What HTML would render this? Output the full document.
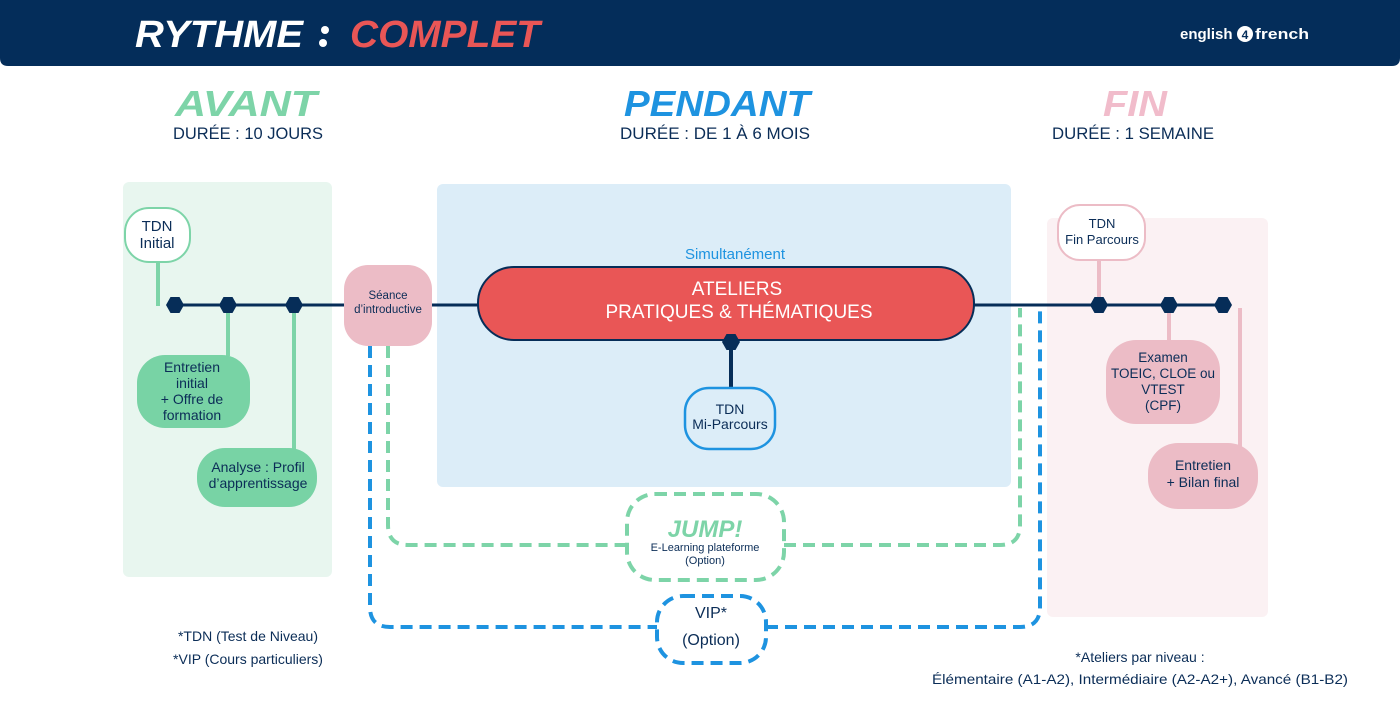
<!DOCTYPE html>
<html><head><meta charset="utf-8"><style>
html,body{margin:0;padding:0;background:#fff;}
svg{display:block;font-family:"Liberation Sans",sans-serif;}
</style></head><body>
<svg width="1400" height="720" viewBox="0 0 1400 720" xmlns="http://www.w3.org/2000/svg">
<!-- header -->
<path d="M0 0 H1400 V58 Q1400 66 1392 66 H8 Q0 66 0 58 Z" fill="#042d5a"/>
<text x="135" y="47" font-size="38" font-weight="bold" font-style="italic" fill="#fff" textLength="168" lengthAdjust="spacingAndGlyphs">RYTHME</text>
<circle cx="325" cy="30" r="4" fill="#fff"/>
<circle cx="323" cy="43" r="4" fill="#fff"/>
<text x="350" y="47" font-size="38" font-weight="bold" font-style="italic" fill="#e95656" textLength="190" lengthAdjust="spacingAndGlyphs">COMPLET</text>
<text x="1180" y="39" font-size="15" font-weight="bold" fill="#fff">english</text>
<circle cx="1245" cy="34" r="8" fill="#fff"/>
<text x="1245" y="39" font-size="12" font-weight="bold" fill="#042d5a" text-anchor="middle">4</text>
<text x="1255" y="39" font-size="15" font-weight="bold" fill="#fff" textLength="54" lengthAdjust="spacingAndGlyphs">french</text>

<!-- phase titles -->
<g font-weight="bold" font-style="italic" font-size="36" text-anchor="middle">
<text x="246" y="116" fill="#7dd4a8" textLength="142" lengthAdjust="spacingAndGlyphs">AVANT</text>
<text x="717" y="116" fill="#1e93e0" textLength="186" lengthAdjust="spacingAndGlyphs">PENDANT</text>
<text x="1135" y="116" fill="#f1bccb" textLength="64" lengthAdjust="spacingAndGlyphs">FIN</text>
</g>
<g font-size="17" fill="#0b2d57" text-anchor="middle">
<text x="248" y="139" textLength="150" lengthAdjust="spacingAndGlyphs">DURÉE : 10 JOURS</text>
<text x="715" y="139" textLength="190" lengthAdjust="spacingAndGlyphs">DURÉE : DE 1 À 6 MOIS</text>
<text x="1133" y="139" textLength="162" lengthAdjust="spacingAndGlyphs">DURÉE : 1 SEMAINE</text>
</g>

<!-- panels -->
<rect x="123" y="182" width="209" height="395" rx="6" fill="#e8f6ef"/>
<rect x="437" y="184" width="574" height="303" rx="6" fill="#dcedf8"/>
<rect x="1047" y="218" width="221" height="399" rx="6" fill="#fbf1f3"/>

<!-- dashed loops -->
<path d="M388 346 V525 Q388 545 408 545 H626 M784 545 H1000 Q1020 545 1020 525 V308" fill="none" stroke="#7dd4a8" stroke-width="4" stroke-dasharray="12 7"/>
<path d="M370 346 V607 Q370 627 390 627 H657 M766 627 H1020 Q1040 627 1040 607 V308" fill="none" stroke="#1e93e0" stroke-width="4" stroke-dasharray="12 7"/>

<!-- connectors -->
<g stroke-width="4" fill="none">
<line x1="158" y1="262" x2="158" y2="306" stroke="#7dd4a8"/>
<line x1="228" y1="305" x2="228" y2="356" stroke="#7dd4a8"/>
<line x1="294" y1="305" x2="294" y2="449" stroke="#7dd4a8"/>
<line x1="731" y1="340" x2="731" y2="389" stroke="#062d58"/>
<line x1="1099" y1="258" x2="1099" y2="305" stroke="#ecbcc6"/>
<line x1="1169" y1="305" x2="1169" y2="341" stroke="#ecbcc6"/>
<line x1="1240" y1="308" x2="1240" y2="450" stroke="#ecbcc6"/>
</g>
<line x1="170" y1="305" x2="1230" y2="305" stroke="#062d58" stroke-width="3"/>

<!-- nodes -->
<rect x="125" y="208" width="65" height="54" rx="24" fill="#fff" stroke="#7dd4a8" stroke-width="2"/>
<rect x="137" y="355" width="113" height="73" rx="28" fill="#78d3a5"/>
<rect x="197" y="448" width="120" height="59" rx="28" fill="#78d3a5"/>
<rect x="344" y="265" width="88" height="81" rx="24" fill="#ecbcc6"/>
<rect x="478" y="267" width="496" height="73" rx="36" fill="#e95656" stroke="#062d58" stroke-width="2"/>
<rect x="685" y="388" width="90" height="61" rx="24" fill="#dcedf8" stroke="#1e93e0" stroke-width="2.5"/>
<rect x="1058" y="205" width="87" height="55" rx="22" fill="#fff" stroke="#ecbcc6" stroke-width="2"/>
<rect x="1106" y="340" width="114" height="84" rx="30" fill="#ecbcc6"/>
<rect x="1148" y="443" width="110" height="66" rx="30" fill="#ecbcc6"/>
<rect x="627" y="494" width="157" height="86" rx="28" fill="#fff" stroke="#7dd4a8" stroke-width="4" stroke-dasharray="12 7"/>
<rect x="657" y="596" width="109" height="67" rx="26" fill="#fff" stroke="#1e93e0" stroke-width="4" stroke-dasharray="12 7"/>

<!-- hexagons -->
<g fill="#062d58">
<polygon transform="translate(175,305)" points="-9,0 -4.5,-8 4.5,-8 9,0 4.5,8 -4.5,8"/>
<polygon transform="translate(228,305)" points="-9,0 -4.5,-8 4.5,-8 9,0 4.5,8 -4.5,8"/>
<polygon transform="translate(294,305)" points="-9,0 -4.5,-8 4.5,-8 9,0 4.5,8 -4.5,8"/>
<polygon transform="translate(1099,305)" points="-9,0 -4.5,-8 4.5,-8 9,0 4.5,8 -4.5,8"/>
<polygon transform="translate(1169,305)" points="-9,0 -4.5,-8 4.5,-8 9,0 4.5,8 -4.5,8"/>
<polygon transform="translate(1223,305)" points="-9,0 -4.5,-8 4.5,-8 9,0 4.5,8 -4.5,8"/>
<polygon transform="translate(731,342)" points="-9,0 -4.5,-8 4.5,-8 9,0 4.5,8 -4.5,8"/>
</g>

<!-- node text -->
<g fill="#0b2d57" text-anchor="middle">
<g font-size="15"><text x="157" y="231">TDN</text><text x="157" y="248">Initial</text></g>
<g font-size="14"><text x="192" y="372">Entretien</text><text x="192" y="388">initial</text><text x="192" y="404">+ Offre de</text><text x="192" y="420">formation</text></g>
<g font-size="14"><text x="258" y="472">Analyse : Profil</text><text x="258" y="488">d’apprentissage</text></g>
<g font-size="11.5"><text x="388" y="299">Séance</text><text x="388" y="313">d’introductive</text></g>
<g font-size="14"><text x="730" y="414">TDN</text><text x="730" y="429">Mi-Parcours</text></g>
<g font-size="13"><text x="1102" y="228">TDN</text><text x="1102" y="244">Fin Parcours</text></g>
<g font-size="13.5"><text x="1163" y="362">Examen</text><text x="1163" y="378">TOEIC, CLOE ou</text><text x="1163" y="394">VTEST</text><text x="1163" y="410">(CPF)</text></g>
<g font-size="14"><text x="1203" y="470">Entretien</text><text x="1203" y="487">+ Bilan final</text></g>
<g font-size="11"><text x="705" y="551">E-Learning plateforme</text><text x="705" y="564">(Option)</text></g>
<g font-size="16"><text x="711" y="618">VIP*</text><text x="711" y="645">(Option)</text></g>
<g font-size="14"><text x="248" y="641">*TDN (Test de Niveau)</text><text x="248" y="664">*VIP (Cours particuliers)</text></g>
<g font-size="14"><text x="1140" y="662">*Ateliers par niveau :</text><text x="1140" y="684" textLength="416" lengthAdjust="spacingAndGlyphs">Élémentaire (A1-A2), Intermédiaire (A2-A2+), Avancé (B1-B2)</text></g>
</g>
<text x="705" y="537" font-size="24" font-weight="bold" font-style="italic" fill="#7dd4a8" text-anchor="middle">JUMP!</text>
<text x="735" y="259" font-size="15" fill="#1e93e0" text-anchor="middle">Simultanément</text>
<g fill="#fff" text-anchor="middle" font-size="19"><text x="737" y="295">ATELIERS</text><text x="739" y="318">PRATIQUES &amp; THÉMATIQUES</text></g>
</svg>
</body></html>
